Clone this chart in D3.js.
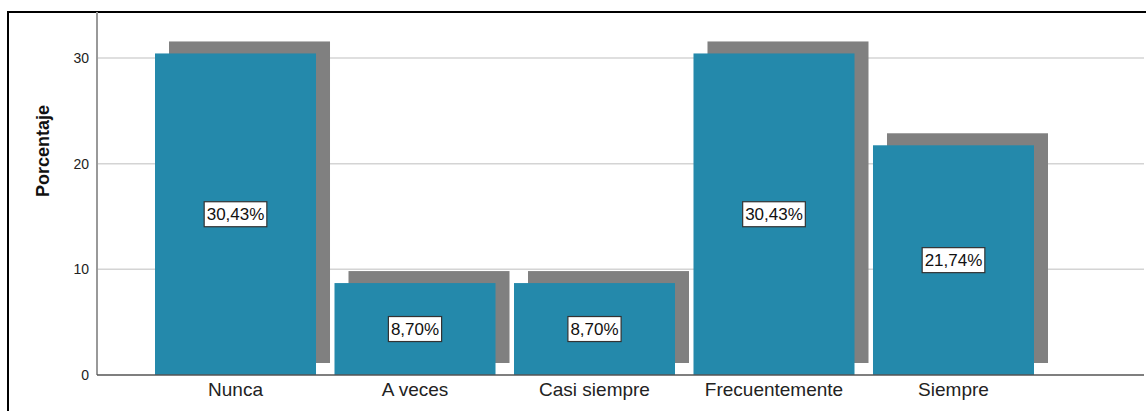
<!DOCTYPE html>
<html>
<head>
<meta charset="utf-8">
<script src="https://cdn.jsdelivr.net/npm/d3@7"></script>
<style>
  body { margin: 0; background: #fff; }
  svg { display: block; font-family: Arial, "Liberation Sans", sans-serif; }
</style>
</head>
<body>
<div id="chart"></div>
<script>
const categories = ['Nunca', 'A veces', 'Casi siempre', 'Frecuentemente', 'Siempre'];
const values = [30.43, 8.70, 8.70, 30.43, 21.74];
const yTicks = [0, 10, 20, 30];
const yTitle = 'Porcentaje';

const width = 1146, height = 411;

const svg = d3.select('#chart').append('svg')
  .attr('width', width)
  .attr('height', height);

// outer frame (runs off the right and bottom edge)
svg.append('rect')
  .attr('x', 8).attr('y', 12)
  .attr('width', 1160).attr('height', 420)
  .attr('fill', 'none')
  .attr('stroke', '#000')
  .attr('stroke-width', 2);

const plotLeft = 97, plotRight = 1144, baseY = 375;

let yScale = d3.scaleLinear()
  .domain([0, 30])
  .range([baseY, 58]);

let xScale = d3.scaleBand()
  .domain(categories)
  .range([155, 1034])
  .paddingInner(0.103)
  .paddingOuter(0);

// grid
svg.append('g')
  .selectAll('line')
  .data(yTicks.filter(d => d > 0))
  .join('line')
  .attr('x1', plotLeft).attr('x2', plotRight)
  .attr('y1', d => yScale(d)).attr('y2', d => yScale(d))
  .attr('stroke', '#d4d4d4')
  .attr('stroke-width', 1.5);

const shadowDx = 14, shadowDy = -12;

// shadows
svg.append('g')
  .selectAll('rect')
  .data(values)
  .join('rect')
  .attr('x', (d, i) => xScale(categories[i]) + shadowDx)
  .attr('y', d => yScale(d) + shadowDy)
  .attr('width', xScale.bandwidth())
  .attr('height', d => baseY - yScale(d))
  .attr('fill', '#808080');

// bars
svg.append('g')
  .selectAll('rect')
  .data(values)
  .join('rect')
  .attr('x', (d, i) => xScale(categories[i]))
  .attr('y', d => yScale(d))
  .attr('width', xScale.bandwidth())
  .attr('height', d => baseY - yScale(d))
  .attr('fill', '#2489ab');

// y axis
const yAxis = svg.append('g')
  .attr('transform', 'translate(' + plotLeft + ',0)')
  .call(d3.axisLeft(yScale)
        .tickValues(yTicks)
        .tickSize(0)
        .tickPadding(8)
        .tickFormat(d => d));

yAxis.select('.domain').remove();
yAxis.selectAll('.tick text')
  .attr('fill', '#222')
  .style('font-size', '14px');

svg.append('line')
  .attr('x1', plotLeft).attr('x2', plotLeft)
  .attr('y1', 12).attr('y2', baseY)
  .attr('stroke', '#999')
  .attr('stroke-width', 2);

// x axis
const xAxis = svg.append('g')
  .attr('transform', 'translate(0,' + baseY + ')')
  .call(d3.axisBottom(xScale).tickSize(0).tickPadding(8));

xAxis.select('.domain').remove();
xAxis.selectAll('.tick text')
  .attr('fill', '#222')
  .style('font-size', '19px');

svg.append('line')
  .attr('x1', plotLeft).attr('x2', plotRight)
  .attr('y1', baseY).attr('y2', baseY)
  .attr('stroke', '#555')
  .attr('stroke-width', 1.5);

// value labels
const labels = svg.append('g')
  .selectAll('g')
  .data(values)
  .join('g')
  .attr('transform', (d, i) => 'translate(' + (xScale(categories[i]) + xScale.bandwidth() / 2) + ',' + yScale(d / 2) + ')');

labels.append('text')
  .attr('text-anchor', 'middle')
  .attr('dy', '0.36em')
  .style('font-size', '17px')
  .attr('fill', '#111')
  .text(d => d.toFixed(2).replace('.', ',') + '%')
  .each(function() {
    const b = this.getBBox();
    d3.select(this.parentNode).insert('rect', 'text')
      .attr('x', b.x - 2.5)
      .attr('y', -12.5)
      .attr('width', b.width + 5)
      .attr('height', 25)
      .attr('fill', '#fff')
      .attr('stroke', '#333')
      .attr('stroke-width', 1.2);
  });

// y title
svg.append('text')
  .attr('transform', 'translate(49,151) rotate(-90)')
  .attr('text-anchor', 'middle')
  .style('font-size', '18px')
  .style('font-weight', 'bold')
  .attr('fill', '#111')
  .text(yTitle);
</script>
</body>
</html>
